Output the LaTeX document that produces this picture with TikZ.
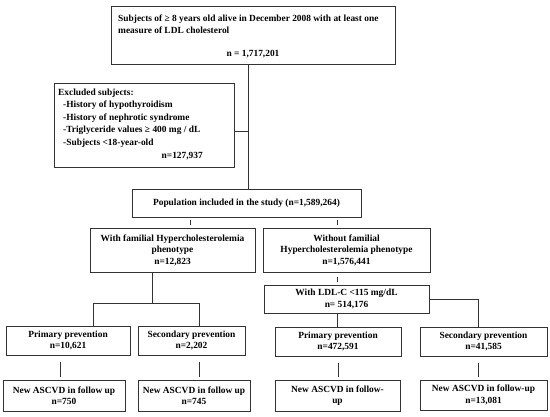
\documentclass[tikz,border=0pt]{standalone}
\usepackage{fontspec}
\setmainfont{Liberation Serif}
\definecolor{linec}{HTML}{333333}
\begin{document}
\begin{tikzpicture}[x=1pt,y=1pt,
  box/.style={draw=linec, line width=0.9pt, inner sep=0pt, align=center,
    font=\bfseries\fontsize{9.4}{11.5}\selectfont},
  txt/.style={inner sep=0pt, font=\bfseries\fontsize{9.4}{12.5}\selectfont},
  conn/.style={draw=linec, line width=0.9pt}]
\useasboundingbox (0,0) rectangle (550,-416);
% boxes
\node[box, minimum width=284, minimum height=58] (top) at (253,-35) {};
\node[txt, anchor=west, align=left] (topa) at (118,-24) {Subjects of ≥ 8 years old alive in December 2008 with at least one\\measure of LDL cholesterol};
\node[txt] (topn) at (253,-54) {n = 1,717,201};
\node[box, minimum width=180, minimum height=84] (excl) at (144,-125) {};
\node[txt, anchor=north west, align=left] (excla) at (58,-89) {Excluded subjects:\\[-0.5pt]
\hspace*{5pt}-History of hypothyroidism\\
\hspace*{5pt}-History of nephrotic syndrome\\
\hspace*{5pt}-Triglyceride values ≥ 400 mg / dL\\
\hspace*{5pt}-Subjects <18-year-old};
\node[txt, anchor=east] (excln) at (203,-156) {n=127,937};
\node[box, minimum width=229, minimum height=28] (pop) at (246.5,-203) {Population included in the study (n=1,589,264)};
\node[box, minimum width=165, minimum height=44] (fam) at (172.5,-250) {With familial Hypercholesterolemia\\phenotype\\n=12,823};
\node[box, minimum width=167, minimum height=44] (nofam) at (346.5,-250) {Without familial\\Hypercholesterolemia phenotype\\n=1,576,441};
\node[box, minimum width=165, minimum height=28] (ldl) at (346.5,-299) {With LDL-C <115 mg/dL\\n= 514,176};
\node[box, minimum width=124, minimum height=29] (p1) at (68,-340.5) {Primary prevention\\n=10,621};
\node[box, minimum width=107, minimum height=29] (s1) at (191.5,-340.5) {Secondary prevention\\n=2,202};
\node[box, minimum width=126, minimum height=29] (p2) at (338,-341.5) {Primary prevention\\n=472,591};
\node[box, minimum width=127, minimum height=29] (s2) at (483.5,-341.5) {Secondary prevention\\n=41,585};
\node[box, minimum width=122, minimum height=31] (n1) at (64,-395.5) {New ASCVD in follow up\\n=750};
\node[box, minimum width=112, minimum height=31] (n2) at (194,-395.5) {New ASCVD in follow up\\n=745};
\node[box, minimum width=125, minimum height=31] (n3) at (337.5,-395.5) {New ASCVD in follow-\\up};
\node[box, minimum width=127, minimum height=30] (n4) at (483.5,-395) {New ASCVD in follow-up\\n=13,081};
% connector positions
\coordinate (xa) at (248,0);
\coordinate (jx) at (248,-131);
\coordinate (xb) at (190,0);
\coordinate (xc) at (337,0);
\coordinate (xd) at (152,0);
\coordinate (hy) at (0,-303.5);
\coordinate (xe) at (93,0);
\coordinate (xf) at (199,0);
\coordinate (xg) at (478,0);
\coordinate (xh) at (60,0);
\coordinate (xi) at (338,0);
% connectors
\draw[conn] (top.south -| xa) -- (pop.north -| xa);
\draw[conn] (excl.east |- jx) -- (jx);
\draw[conn, shorten <=2.5pt, shorten >=3pt] (pop.south -| xb) -- (fam.north -| xb);
\draw[conn, shorten <=2.5pt, shorten >=3pt] (pop.south -| xc) -- (nofam.north -| xc);
\draw[conn, shorten <=4.5pt, shorten >=3pt] (nofam.south -| xc) -- (ldl.north -| xc);
\draw[conn] (fam.south -| xd) -- (hy -| xd);
\draw[conn] (p1.north -| xe) -- (hy -| xe) -- (hy -| xf) -- (s1.north -| xf);
\draw[conn] (ldl.south -| xc) -- (p2.north -| xc);
\draw[conn] (ldl.east) -| (s2.north -| xg);
\draw[conn, shorten <=7pt, shorten >=3pt] (p1.south -| xh) -- (n1.north -| xh);
\draw[conn, shorten <=7pt, shorten >=3pt] (s1.south -| xf) -- (n2.north -| xf);
\draw[conn, shorten <=7pt, shorten >=3pt] (p2.south -| xi) -- (n3.north -| xi);
\draw[conn, shorten <=7pt, shorten >=3pt] (s2.south -| xg) -- (n4.north -| xg);
\end{tikzpicture}
\end{document}
